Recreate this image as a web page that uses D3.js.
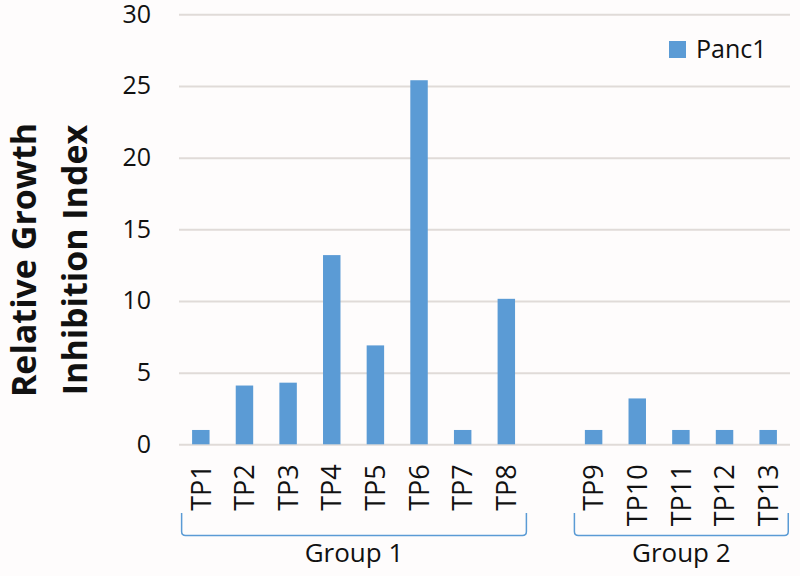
<!DOCTYPE html>
<html>
<head>
<meta charset="utf-8">
<script src="https://cdn.jsdelivr.net/npm/d3@7"></script>
<style>
  body { margin: 0; background: #fefcfc; }
  svg { display: block; }
</style>
</head>
<body>
<script>
// Data
var group1 = ["TP1", "TP2", "TP3", "TP4", "TP5", "TP6", "TP7", "TP8"];
var group2 = ["TP9", "TP10", "TP11", "TP12", "TP13"];
var groupNames = ["Group 1", "Group 2"];
var panc1 = [1.0, 4.1, 4.3, 13.2, 6.9, 25.4, 1.0, 10.15, 1.0, 3.2, 1.0, 1.0, 1.0];
var yTicks = [0, 5, 10, 15, 20, 25, 30];
var seriesName = "Panc1";

var categories = group1.concat(group2);
var data = categories.map(function(c, i) { return {cat: c, value: panc1[i]}; });

var W = 800, H = 576;
var margin = {top: 14.3, right: 10, bottom: 131.7, left: 179},
    width = W - margin.left - margin.right,
    height = H - margin.top - margin.bottom;

var barColor = "#5b9bd5";
var font = "'Open Sans', 'Noto Sans', sans-serif";

var svg = d3.select("body").append("svg")
    .attr("width", W)
    .attr("height", H)
    .style("background", "#fefcfc")
  .append("g")
    .attr("transform", "translate(" + margin.left + "," + margin.top + ")");

// band scale with an empty slot between the two groups
var x = d3.scaleBand()
    .domain(group1.concat(["_gap"], group2))
    .range([0, width])
    .paddingInner(0.6)
    .paddingOuter(0.3);

var y = d3.scaleLinear()
    .domain([0, 30])
    .range([height, 0]);

// gridlines
svg.append("g")
    .attr("class", "grid")
    .call(d3.axisLeft(y).tickValues(yTicks).tickSize(-width).tickFormat(""))
    .call(function(g) { g.select(".domain").remove(); })
    .selectAll("line")
    .style("stroke", "#e0dbd8")
    .style("stroke-width", 2);

// y tick labels
svg.append("g")
    .call(d3.axisLeft(y).tickValues(yTicks).tickSize(0).tickPadding(28))
    .call(function(g) { g.select(".domain").remove(); })
    .selectAll("text")
    .style("font-family", font)
    .style("font-size", "25px")
    .style("fill", "#111");

// bars
svg.selectAll(".bar")
    .data(data)
    .enter().append("rect")
    .attr("class", "bar")
    .attr("x", function(d) { return x(d.cat); })
    .attr("width", x.bandwidth())
    .attr("y", function(d) { return y(d.value); })
    .attr("height", function(d) { return height - y(d.value); })
    .style("fill", barColor);

// x tick labels, rotated
svg.append("g")
    .attr("transform", "translate(0," + height + ")")
    .call(d3.axisBottom(x).tickValues(categories).tickSize(0))
    .call(function(g) { g.select(".domain").remove(); })
    .selectAll("text")
    .attr("transform", "rotate(-90)")
    .attr("x", -20)
    .attr("y", 0)
    .attr("dy", "0.36em")
    .style("text-anchor", "end")
    .style("font-family", font)
    .style("font-size", "27px")
    .style("fill", "#111");

// group brackets and labels
var groups = [group1, group2];
var bTop = 513 - margin.top, bBot = 535.5 - margin.top, r = 4;
groups.forEach(function(g, i) {
    var x0 = x(g[0]) - x.step() * 0.24;
    var x1 = x(g[g.length - 1]) + x.bandwidth() + x.step() * 0.26;
    svg.append("path")
        .attr("d", "M" + x0 + "," + bTop + " L" + x0 + "," + (bBot - r) +
            " Q" + x0 + "," + bBot + " " + (x0 + r) + "," + bBot +
            " L" + (x1 - r) + "," + bBot +
            " Q" + x1 + "," + bBot + " " + x1 + "," + (bBot - r) +
            " L" + x1 + "," + bTop)
        .style("fill", "none")
        .style("stroke", barColor)
        .style("stroke-width", 1.5);
    svg.append("text")
        .attr("x", (x0 + x1) / 2)
        .attr("y", 562 - margin.top)
        .style("text-anchor", "middle")
        .style("font-family", font)
        .style("font-size", "26px")
        .style("fill", "#111")
        .text(groupNames[i]);
});

// y axis title, two lines
var titleLines = ["Relative Growth", "Inhibition Index"];
var titleX = [36, 87];
titleLines.forEach(function(t, i) {
    svg.append("text")
        .attr("transform", "translate(" + (titleX[i] - margin.left) + "," + (260 - margin.top) + ") rotate(-90)")
        .style("text-anchor", "middle")
        .style("font-family", font)
        .style("font-weight", "bold")
        .style("font-size", "34px")
        .style("fill", "#111")
        .text(t);
});

// legend
var legend = svg.append("g")
    .attr("transform", "translate(" + (669 - margin.left) + "," + (41 - margin.top) + ")");
legend.append("rect")
    .attr("width", 17)
    .attr("height", 17)
    .style("fill", barColor);
legend.append("text")
    .attr("x", 27)
    .attr("y", 17)
    .style("font-family", font)
    .style("font-size", "25px")
    .style("fill", "#111")
    .text(seriesName);
</script>
</body>
</html>
